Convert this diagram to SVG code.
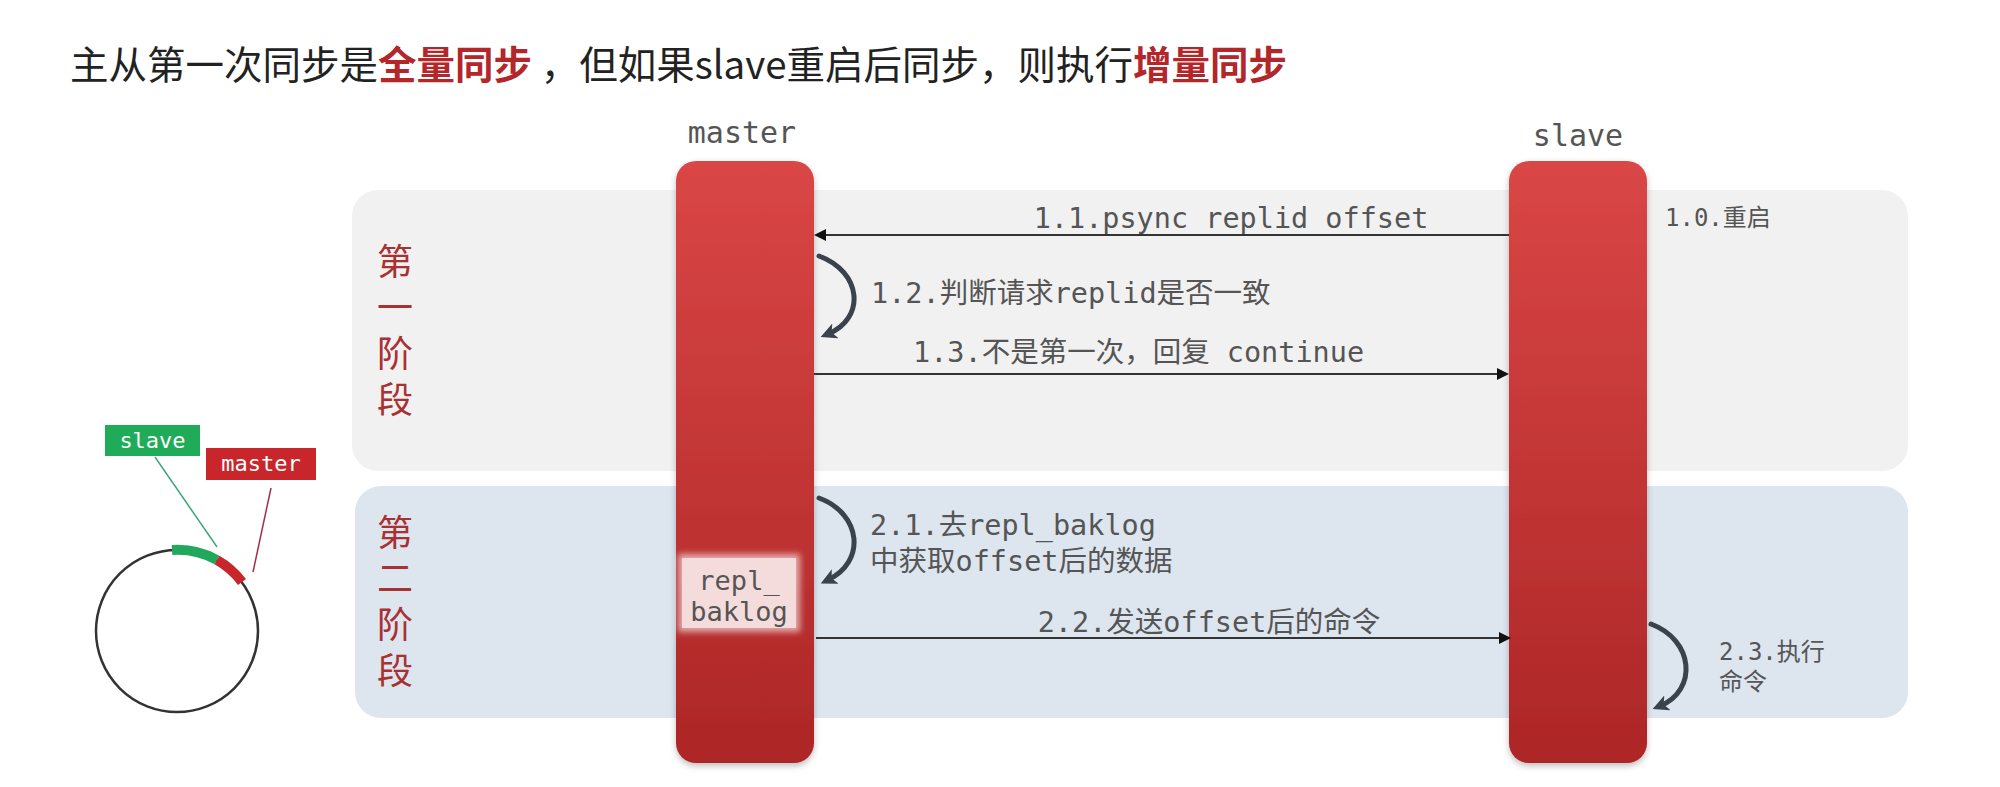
<svg xmlns="http://www.w3.org/2000/svg" width="2000" height="787" viewBox="0 0 2000 787">
<defs>
<style>
.title{font-family:"Noto Sans CJK SC","Noto Sans",sans-serif;font-size:38.5px;fill:#222}
.hl{font-weight:bold;fill:#b3262a}
.phase{font-family:"Noto Sans CJK SC",sans-serif;font-size:36px;fill:#a83232;writing-mode:vertical-rl;letter-spacing:10px}
.lbl{font-family:"DejaVu Sans Mono","Noto Sans CJK SC",monospace;font-size:28.5px;fill:#555}
.sm{font-family:"DejaVu Sans Mono","Noto Sans CJK SC",monospace;font-size:24px;fill:#555}
.head{font-family:"DejaVu Sans Mono",monospace;font-size:30px;fill:#555}
.msg{stroke:#333;stroke-width:2;fill:none}
.loop{stroke:#3a434d;stroke-width:5;fill:none;stroke-linecap:round}
.tag{font-family:"DejaVu Sans Mono",monospace;font-size:22px;fill:#fff}
</style>
<linearGradient id="bar" x1="0" y1="0" x2="0" y2="1">
<stop offset="0" stop-color="#da4646"/>
<stop offset="1" stop-color="#ad2626"/>
</linearGradient>
<filter id="sh" x="-20%" y="-5%" width="140%" height="110%">
<feDropShadow dx="0" dy="3" stdDeviation="3" flood-color="#000" flood-opacity="0.25"/>
</filter>
<filter id="glow" x="-20%" y="-20%" width="140%" height="140%">
<feGaussianBlur stdDeviation="3"/>
</filter>
<marker id="ah" markerWidth="12" markerHeight="12" refX="10" refY="6" orient="auto" markerUnits="userSpaceOnUse">
<path d="M0,0 L12,6 L0,12 Z" fill="#111"/>
</marker>
<marker id="lh" markerWidth="16" markerHeight="16" refX="8" refY="8" orient="auto" markerUnits="userSpaceOnUse">
<path d="M0,0 L16,8 L0,16 L4,8 Z" fill="#3a434d"/>
</marker>
</defs>
<rect width="2000" height="787" fill="#fff"/>

<text class="title" x="70" y="79">主从第一次同步是<tspan class="hl">全量同步</tspan> ，但如果slave重启后同步，则执行<tspan class="hl">增量同步</tspan></text>

<g id="phase1">
<rect x="352" y="190" width="1556" height="281" rx="26" fill="#f1f1f2"/>
<text class="phase" x="395" y="243">第一阶段</text>
</g>
<g id="phase2">
<rect x="355" y="486" width="1553" height="232" rx="26" fill="#dde5ef"/>
<text class="phase" x="395" y="514">第二阶段</text>
</g>

<g id="master">
<text class="head" x="742" y="143" text-anchor="middle">master</text>
<rect x="676" y="161" width="138" height="602" rx="20" fill="url(#bar)" filter="url(#sh)"/>
</g>
<g id="slave">
<text class="head" x="1578" y="146" text-anchor="middle">slave</text>
<rect x="1509" y="161" width="138" height="602" rx="20" fill="url(#bar)" filter="url(#sh)"/>
</g>
<g id="repl_baklog">
<rect x="678" y="554" width="122" height="78" fill="#fff" opacity="0.6" filter="url(#glow)"/>
<rect x="682" y="558" width="114" height="70" fill="#f4dcdc"/>
<text class="sm" text-anchor="middle" style="font-size:27px"><tspan x="739" y="590">repl_</tspan><tspan x="739" y="621">baklog</tspan></text>
</g>

<g id="connectors">
<line class="msg" x1="1509" y1="235" x2="816" y2="235" marker-end="url(#ah)"/>
<line class="msg" x1="814" y1="374" x2="1507" y2="374" marker-end="url(#ah)"/>
<line class="msg" x1="816" y1="638" x2="1509" y2="638" marker-end="url(#ah)"/>
<path class="loop" d="M819 256 C862 272 866 318 828 334" marker-end="url(#lh)"/>
<path class="loop" d="M819 498 C862 514 866 562 828 580" marker-end="url(#lh)"/>
<path class="loop" d="M1651 624 C1694 640 1698 690 1660 706" marker-end="url(#lh)"/>
</g>

<g id="labels">
<text class="lbl" x="1231" y="228" text-anchor="middle">1.1.psync replid offset</text>
<text class="sm" x="1665" y="226">1.0.重启</text>
<text class="lbl" x="871" y="303">1.2.判断请求replid是否一致</text>
<text class="lbl" x="913" y="362">1.3.不是第一次，回复 continue</text>
<text class="lbl"><tspan x="870" y="535">2.1.去repl_baklog</tspan><tspan x="870" y="571">中获取offset后的数据</tspan></text>
<text class="lbl" x="1209" y="632" text-anchor="middle">2.2.发送offset后的命令</text>
<text class="sm"><tspan x="1719" y="660">2.3.执行</tspan><tspan x="1719" y="690">命令</tspan></text>
</g>

<g id="ring">
<circle cx="177" cy="631" r="81" fill="none" stroke="#333" stroke-width="2.5"/>
<path d="M172 550 A81 81 0 0 1 217 560" fill="none" stroke="#22a85a" stroke-width="10"/>
<path d="M217 560 A81 81 0 0 1 242 582" fill="none" stroke="#c8262a" stroke-width="10"/>
<line x1="155" y1="457" x2="217" y2="547" stroke="#3aa878" stroke-width="1.5"/>
<line x1="271" y1="488" x2="253" y2="572" stroke="#a0304a" stroke-width="1.5"/>
</g>
<g id="tag-slave">
<rect x="105" y="425" width="95" height="31" fill="#1fab58"/>
<text class="tag" x="152.5" y="448" text-anchor="middle">slave</text>
</g>
<g id="tag-master">
<rect x="206" y="448" width="110" height="32" fill="#c8262a"/>
<text class="tag" x="261" y="471" text-anchor="middle">master</text>
</g>
</svg>
